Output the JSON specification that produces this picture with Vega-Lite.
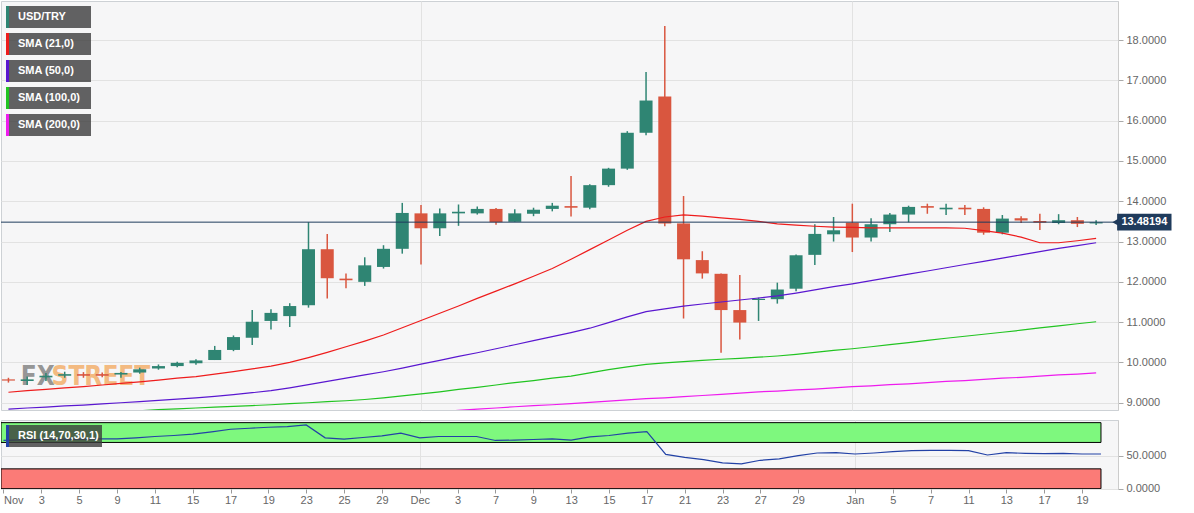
{
  "$schema": "https://vega.github.io/schema/vega-lite/v6.json",
  "background": "#ffffff",
  "padding": 0,
  "config": {
    "font": "Liberation Sans",
    "view": {"fill": "#f6f6f7", "stroke": "#cdd1d5", "strokeWidth": 1},
    "axis": {"labelFont": "Liberation Sans", "labelFontSize": 11, "labelColor": "#666666", "domainColor": "#cccccc", "tickColor": "#aaaaaa", "gridColor": "#e2e2e2", "title": null, "labelOverlap": false},
    "legend": {"labelFont": "Liberation Sans", "labelFontSize": 11, "labelFontWeight": "bold", "labelColor": "#ffffff"},
    "concat": {"spacing": 8}
  },
  "datasets": {
    "days": [
      {"date": "2021-11-01", "i": 0, "open": 9.58, "high": 9.62, "low": 9.50, "close": 9.55, "sma21": 9.26, "sma50": 8.84, "sma100": 8.66, "rsi": 73},
      {"date": "2021-11-02", "i": 1, "open": 9.54, "high": 9.65, "low": 9.44, "close": 9.58, "sma21": 9.30, "sma50": 8.87, "sma100": 8.68, "rsi": 74},
      {"date": "2021-11-03", "i": 2, "open": 9.63, "high": 9.74, "low": 9.54, "close": 9.67, "sma21": 9.33, "sma50": 8.89, "sma100": 8.70, "rsi": 74.5},
      {"date": "2021-11-04", "i": 3, "open": 9.67, "high": 9.77, "low": 9.62, "close": 9.71, "sma21": 9.37, "sma50": 8.92, "sma100": 8.72, "rsi": 75},
      {"date": "2021-11-05", "i": 4, "open": 9.71, "high": 9.76, "low": 9.62, "close": 9.67, "sma21": 9.40, "sma50": 8.94, "sma100": 8.74, "rsi": 75},
      {"date": "2021-11-08", "i": 5, "open": 9.71, "high": 9.75, "low": 9.63, "close": 9.67, "sma21": 9.44, "sma50": 8.97, "sma100": 8.76, "rsi": 75.5},
      {"date": "2021-11-09", "i": 6, "open": 9.70, "high": 9.76, "low": 9.62, "close": 9.74, "sma21": 9.48, "sma50": 9.00, "sma100": 8.78, "rsi": 75.5},
      {"date": "2021-11-10", "i": 7, "open": 9.75, "high": 9.87, "low": 9.72, "close": 9.83, "sma21": 9.52, "sma50": 9.03, "sma100": 8.80, "rsi": 77},
      {"date": "2021-11-11", "i": 8, "open": 9.85, "high": 9.95, "low": 9.82, "close": 9.91, "sma21": 9.56, "sma50": 9.06, "sma100": 8.83, "rsi": 79},
      {"date": "2021-11-12", "i": 9, "open": 9.91, "high": 10.02, "low": 9.88, "close": 9.99, "sma21": 9.61, "sma50": 9.09, "sma100": 8.85, "rsi": 80.5},
      {"date": "2021-11-15", "i": 10, "open": 9.98, "high": 10.08, "low": 9.94, "close": 10.05, "sma21": 9.65, "sma50": 9.12, "sma100": 8.87, "rsi": 82.5},
      {"date": "2021-11-16", "i": 11, "open": 10.06, "high": 10.41, "low": 10.06, "close": 10.31, "sma21": 9.71, "sma50": 9.16, "sma100": 8.89, "rsi": 86},
      {"date": "2021-11-17", "i": 12, "open": 10.31, "high": 10.67, "low": 10.28, "close": 10.63, "sma21": 9.77, "sma50": 9.20, "sma100": 8.91, "rsi": 90},
      {"date": "2021-11-18", "i": 13, "open": 10.61, "high": 11.30, "low": 10.43, "close": 11.01, "sma21": 9.84, "sma50": 9.25, "sma100": 8.93, "rsi": 91.5},
      {"date": "2021-11-19", "i": 14, "open": 11.03, "high": 11.32, "low": 10.82, "close": 11.23, "sma21": 9.91, "sma50": 9.30, "sma100": 8.95, "rsi": 93},
      {"date": "2021-11-22", "i": 15, "open": 11.15, "high": 11.47, "low": 10.88, "close": 11.40, "sma21": 10.00, "sma50": 9.37, "sma100": 8.98, "rsi": 94},
      {"date": "2021-11-23", "i": 16, "open": 11.42, "high": 13.48, "low": 11.36, "close": 12.81, "sma21": 10.12, "sma50": 9.45, "sma100": 9.00, "rsi": 96.5},
      {"date": "2021-11-24", "i": 17, "open": 12.81, "high": 13.19, "low": 11.59, "close": 12.09, "sma21": 10.25, "sma50": 9.53, "sma100": 9.03, "rsi": 77},
      {"date": "2021-11-25", "i": 18, "open": 12.08, "high": 12.21, "low": 11.84, "close": 12.04, "sma21": 10.39, "sma50": 9.61, "sma100": 9.05, "rsi": 75},
      {"date": "2021-11-26", "i": 19, "open": 12.00, "high": 12.61, "low": 11.90, "close": 12.41, "sma21": 10.53, "sma50": 9.69, "sma100": 9.08, "rsi": 77.5},
      {"date": "2021-11-29", "i": 20, "open": 12.37, "high": 12.91, "low": 12.33, "close": 12.82, "sma21": 10.68, "sma50": 9.77, "sma100": 9.12, "sma200": 8.69, "rsi": 80},
      {"date": "2021-11-30", "i": 21, "open": 12.82, "high": 13.96, "low": 12.70, "close": 13.71, "sma21": 10.86, "sma50": 9.86, "sma100": 9.17, "sma200": 8.72, "rsi": 84},
      {"date": "2021-12-01", "i": 22, "open": 13.70, "high": 13.91, "low": 12.43, "close": 13.33, "sma21": 11.04, "sma50": 9.96, "sma100": 9.22, "sma200": 8.75, "rsi": 77},
      {"date": "2021-12-02", "i": 23, "open": 13.33, "high": 13.82, "low": 13.14, "close": 13.70, "sma21": 11.22, "sma50": 10.05, "sma100": 9.27, "sma200": 8.78, "rsi": 79},
      {"date": "2021-12-03", "i": 24, "open": 13.70, "high": 13.92, "low": 13.39, "close": 13.74, "sma21": 11.40, "sma50": 10.15, "sma100": 9.33, "sma200": 8.81, "rsi": 79},
      {"date": "2021-12-06", "i": 25, "open": 13.70, "high": 13.87, "low": 13.67, "close": 13.81, "sma21": 11.59, "sma50": 10.24, "sma100": 9.38, "sma200": 8.84, "rsi": 79},
      {"date": "2021-12-07", "i": 26, "open": 13.81, "high": 13.83, "low": 13.42, "close": 13.48, "sma21": 11.77, "sma50": 10.34, "sma100": 9.44, "sma200": 8.87, "rsi": 73},
      {"date": "2021-12-08", "i": 27, "open": 13.49, "high": 13.80, "low": 13.49, "close": 13.70, "sma21": 11.95, "sma50": 10.44, "sma100": 9.50, "sma200": 8.90, "rsi": 73.5},
      {"date": "2021-12-09", "i": 28, "open": 13.69, "high": 13.84, "low": 13.63, "close": 13.79, "sma21": 12.14, "sma50": 10.54, "sma100": 9.55, "sma200": 8.93, "rsi": 74.5},
      {"date": "2021-12-10", "i": 29, "open": 13.81, "high": 13.96, "low": 13.75, "close": 13.89, "sma21": 12.33, "sma50": 10.64, "sma100": 9.61, "sma200": 8.95, "rsi": 75.5},
      {"date": "2021-12-13", "i": 30, "open": 13.88, "high": 14.63, "low": 13.62, "close": 13.84, "sma21": 12.56, "sma50": 10.74, "sma100": 9.66, "sma200": 8.98, "rsi": 73.5},
      {"date": "2021-12-14", "i": 31, "open": 13.84, "high": 14.42, "low": 13.80, "close": 14.40, "sma21": 12.80, "sma50": 10.85, "sma100": 9.74, "sma200": 9.01, "rsi": 78.5},
      {"date": "2021-12-15", "i": 32, "open": 14.40, "high": 14.83, "low": 14.36, "close": 14.81, "sma21": 13.04, "sma50": 10.99, "sma100": 9.82, "sma200": 9.04, "rsi": 80.5},
      {"date": "2021-12-16", "i": 33, "open": 14.81, "high": 15.74, "low": 14.78, "close": 15.70, "sma21": 13.28, "sma50": 11.13, "sma100": 9.89, "sma200": 9.07, "rsi": 84},
      {"date": "2021-12-17", "i": 34, "open": 15.70, "high": 17.21, "low": 15.64, "close": 16.50, "sma21": 13.50, "sma50": 11.26, "sma100": 9.95, "sma200": 9.10, "rsi": 86.5},
      {"date": "2021-12-20", "i": 35, "open": 16.60, "high": 18.35, "low": 13.38, "close": 13.45, "sma21": 13.61, "sma50": 11.33, "sma100": 9.99, "sma200": 9.12, "rsi": 52},
      {"date": "2021-12-21", "i": 36, "open": 13.45, "high": 14.13, "low": 11.09, "close": 12.56, "sma21": 13.66, "sma50": 11.40, "sma100": 10.02, "sma200": 9.15, "rsi": 47.5},
      {"date": "2021-12-22", "i": 37, "open": 12.54, "high": 12.76, "low": 12.08, "close": 12.21, "sma21": 13.63, "sma50": 11.45, "sma100": 10.05, "sma200": 9.18, "rsi": 44},
      {"date": "2021-12-23", "i": 38, "open": 12.20, "high": 12.21, "low": 10.24, "close": 11.30, "sma21": 13.59, "sma50": 11.50, "sma100": 10.08, "sma200": 9.21, "rsi": 39},
      {"date": "2021-12-24", "i": 39, "open": 11.30, "high": 12.17, "low": 10.57, "close": 10.99, "sma21": 13.55, "sma50": 11.55, "sma100": 10.10, "sma200": 9.24, "rsi": 37.5},
      {"date": "2021-12-27", "i": 40, "open": 11.55, "high": 11.61, "low": 11.03, "close": 11.58, "sma21": 13.50, "sma50": 11.60, "sma100": 10.13, "sma200": 9.27, "rsi": 43},
      {"date": "2021-12-28", "i": 41, "open": 11.57, "high": 11.98, "low": 11.46, "close": 11.81, "sma21": 13.44, "sma50": 11.65, "sma100": 10.16, "sma200": 9.29, "rsi": 45},
      {"date": "2021-12-29", "i": 42, "open": 11.83, "high": 12.68, "low": 11.77, "close": 12.66, "sma21": 13.41, "sma50": 11.72, "sma100": 10.20, "sma200": 9.32, "rsi": 50},
      {"date": "2021-12-30", "i": 43, "open": 12.67, "high": 13.43, "low": 12.42, "close": 13.19, "sma21": 13.38, "sma50": 11.80, "sma100": 10.25, "sma200": 9.34, "rsi": 54},
      {"date": "2021-12-31", "i": 44, "open": 13.18, "high": 13.61, "low": 13.00, "close": 13.28, "sma21": 13.36, "sma50": 11.88, "sma100": 10.30, "sma200": 9.37, "rsi": 54.5},
      {"date": "2022-01-03", "i": 45, "open": 13.47, "high": 13.94, "low": 12.74, "close": 13.10, "sma21": 13.35, "sma50": 11.95, "sma100": 10.34, "sma200": 9.40, "rsi": 52.5},
      {"date": "2022-01-04", "i": 46, "open": 13.10, "high": 13.58, "low": 13.00, "close": 13.43, "sma21": 13.34, "sma50": 12.03, "sma100": 10.39, "sma200": 9.42, "rsi": 54},
      {"date": "2022-01-05", "i": 47, "open": 13.43, "high": 13.71, "low": 13.24, "close": 13.67, "sma21": 13.34, "sma50": 12.11, "sma100": 10.44, "sma200": 9.45, "rsi": 56},
      {"date": "2022-01-06", "i": 48, "open": 13.67, "high": 13.89, "low": 13.48, "close": 13.86, "sma21": 13.34, "sma50": 12.19, "sma100": 10.49, "sma200": 9.47, "rsi": 57.5},
      {"date": "2022-01-07", "i": 49, "open": 13.88, "high": 13.94, "low": 13.69, "close": 13.84, "sma21": 13.34, "sma50": 12.27, "sma100": 10.55, "sma200": 9.50, "rsi": 58},
      {"date": "2022-01-10", "i": 50, "open": 13.80, "high": 13.94, "low": 13.66, "close": 13.84, "sma21": 13.34, "sma50": 12.35, "sma100": 10.60, "sma200": 9.53, "rsi": 58},
      {"date": "2022-01-11", "i": 51, "open": 13.84, "high": 13.91, "low": 13.66, "close": 13.80, "sma21": 13.33, "sma50": 12.43, "sma100": 10.65, "sma200": 9.55, "rsi": 57.5},
      {"date": "2022-01-12", "i": 52, "open": 13.81, "high": 13.85, "low": 13.17, "close": 13.22, "sma21": 13.27, "sma50": 12.51, "sma100": 10.70, "sma200": 9.58, "rsi": 51},
      {"date": "2022-01-13", "i": 53, "open": 13.22, "high": 13.66, "low": 13.18, "close": 13.57, "sma21": 13.21, "sma50": 12.59, "sma100": 10.75, "sma200": 9.61, "rsi": 54.5},
      {"date": "2022-01-14", "i": 54, "open": 13.58, "high": 13.63, "low": 13.46, "close": 13.52, "sma21": 13.11, "sma50": 12.67, "sma100": 10.80, "sma200": 9.63, "rsi": 53.5},
      {"date": "2022-01-17", "i": 55, "open": 13.51, "high": 13.69, "low": 13.29, "close": 13.47, "sma21": 12.97, "sma50": 12.75, "sma100": 10.86, "sma200": 9.66, "rsi": 53},
      {"date": "2022-01-18", "i": 56, "open": 13.46, "high": 13.68, "low": 13.43, "close": 13.53, "sma21": 12.97, "sma50": 12.83, "sma100": 10.91, "sma200": 9.69, "rsi": 53.5},
      {"date": "2022-01-19", "i": 57, "open": 13.53, "high": 13.61, "low": 13.36, "close": 13.44, "sma21": 13.02, "sma50": 12.90, "sma100": 10.96, "sma200": 9.71, "rsi": 52.5},
      {"date": "2022-01-20", "i": 58, "open": 13.45, "high": 13.53, "low": 13.41, "close": 13.48, "sma21": 13.08, "sma50": 12.97, "sma100": 11.01, "sma200": 9.74, "rsi": 52.5}
    ]
  },
  "resolve": {"scale": {"color": "independent"}, "legend": {"color": "independent"}},
  "vconcat": [
    {
      "width": 1117,
      "height": 409,
      "layer": [
        {
          "data": {"values": [{"part": "FX"}]},
          "mark": {"type": "text", "font": "DejaVu Sans Condensed, Liberation Sans Narrow, Liberation Sans", "fontWeight": "bold", "fontSize": 26, "align": "left", "baseline": "middle", "color": "#8c8c8c", "opacity": 0.9},
          "encoding": {"x": {"datum": 0.66}, "y": {"datum": 9.65}, "text": {"field": "part"}}
        },
        {
          "data": {"values": [{"part": "STREET"}]},
          "mark": {"type": "text", "font": "DejaVu Sans Condensed, Liberation Sans Narrow, Liberation Sans", "fontWeight": "bold", "fontSize": 26, "align": "left", "baseline": "middle", "color": "#f2a65a", "opacity": 0.75},
          "encoding": {"x": {"datum": 2.3}, "y": {"datum": 9.65}, "text": {"field": "part"}}
        },
        {
          "data": {"name": "days"},
          "mark": {"type": "rule", "clip": true, "strokeWidth": 1.5},
          "encoding": {
            "x": {"field": "i", "type": "quantitative", "scale": {"domain": [-0.13, 58.9], "nice": false, "zero": false},
                  "axis": {"values": [22, 45], "tickCount": 100, "grid": true, "labels": false, "ticks": false, "domain": false}},
            "y": {"field": "low", "type": "quantitative", "scale": {"domain": [8.82, 18.97], "nice": false, "zero": false},
                  "axis": {"orient": "right", "values": [9, 10, 11, 12, 13, 14, 15, 16, 17, 18], "tickCount": 100, "format": ".4f", "grid": true, "tickSize": 5, "labelPadding": 3}},
            "y2": {"field": "high"},
            "color": {"condition": {"test": "datum.close >= datum.open", "value": "#2f8573"}, "value": "#d9563f"}
          }
        },
        {
          "data": {"name": "days"},
          "mark": {"type": "bar", "clip": true, "size": 13},
          "encoding": {
            "x": {"field": "i", "type": "quantitative"},
            "y": {"field": "open", "type": "quantitative"},
            "y2": {"field": "close"},
            "color": {"condition": {"test": "datum.close >= datum.open", "value": "#2f8573"}, "value": "#d9563f"}
          }
        },
        {
          "data": {"name": "days"},
          "mark": {"type": "line", "clip": true, "strokeWidth": 1.2},
          "encoding": {
            "x": {"field": "i", "type": "quantitative"},
            "y": {"field": "sma21", "type": "quantitative"},
            "color": {
              "datum": "SMA (21,0)",
              "scale": {"domain": ["USD/TRY", "SMA (21,0)", "SMA (50,0)", "SMA (100,0)", "SMA (200,0)"], "range": ["#2f8573", "#ee1c1c", "#5a17d0", "#21c421", "#ee1cee"]},
              "legend": {
                "title": null, "orient": "none", "legendX": 5, "legendY": 5, "direction": "vertical",
                "symbolType": "M-1,-1L-1,1", "symbolSize": 484, "symbolStrokeWidth": 3,
                "clipHeight": 22, "labelOffset": -13, "rowPadding": 5,
                "encode": {
                  "symbols": {"update": {"strokeWidth": {"value": 3}}},
                  "entries": {
                    "update": {"fill": {"value": "#3c3c3c"}, "fillOpacity": {"value": 0.8}, "height": {"value": 22},
                    "width": {"signal": "datum.value == 'USD/TRY' ? 78 : ((datum.value == 'SMA (100,0)' || datum.value == 'SMA (200,0)') ? 91 : 85)"}}}
                }
              }
            }
          }
        },
        {
          "data": {"name": "days"},
          "mark": {"type": "line", "clip": true, "strokeWidth": 1.2},
          "encoding": {"x": {"field": "i", "type": "quantitative"}, "y": {"field": "sma50", "type": "quantitative"}, "color": {"datum": "SMA (50,0)"}}
        },
        {
          "data": {"name": "days"},
          "mark": {"type": "line", "clip": true, "strokeWidth": 1.2},
          "encoding": {"x": {"field": "i", "type": "quantitative"}, "y": {"field": "sma100", "type": "quantitative"}, "color": {"datum": "SMA (100,0)"}}
        },
        {
          "data": {"name": "days"},
          "mark": {"type": "line", "clip": true, "strokeWidth": 1.2},
          "encoding": {"x": {"field": "i", "type": "quantitative"}, "y": {"field": "sma200", "type": "quantitative"}, "color": {"datum": "SMA (200,0)"}}
        },
        {
          "data": {"values": [{"price": 13.48194}]},
          "mark": {"type": "rule", "color": "#1f3b5c", "strokeWidth": 1},
          "encoding": {"y": {"field": "price", "type": "quantitative"}}
        },
        {
          "data": {"values": [{"price": 13.48194}]},
          "mark": {"type": "point", "shape": "triangle-left", "filled": true, "size": 45, "color": "#1f3b5c", "opacity": 1},
          "encoding": {"x": {"datum": 59.02}, "y": {"field": "price", "type": "quantitative"}}
        },
        {
          "data": {"values": [{"price": 13.48194}]},
          "mark": {"type": "rect", "color": "#1f3b5c"},
          "encoding": {"x": {"datum": 59.12}, "x2": {"datum": 62.02}, "y": {"datum": 13.272}, "y2": {"datum": 13.692}}
        },
        {
          "data": {"values": [{"price": 13.48194}]},
          "mark": {"type": "text", "color": "#ffffff", "font": "Liberation Sans", "fontSize": 11, "fontWeight": "bold", "align": "center", "baseline": "middle"},
          "encoding": {"x": {"datum": 60.57}, "y": {"field": "price", "type": "quantitative"}, "text": {"field": "price", "format": ".5f"}}
        }
      ]
    },
    {
      "width": 1117,
      "height": 69,
      "layer": [
        {
          "data": {"values": [{"lo": 70, "hi": 100}, {"lo": 0, "hi": 30}]},
          "mark": {"type": "rect", "stroke": "#000000", "strokeWidth": 1, "clip": true},
          "encoding": {
            "x": {"datum": -0.13, "type": "quantitative", "scale": {"domain": [-0.13, 58.9], "nice": false, "zero": false},
                  "axis": {"orient": "bottom",
                           "values": [0, 2, 4, 6, 8, 10, 12, 14, 16, 18, 20, 22, 24, 26, 28, 30, 32, 34, 36, 38, 40, 42, 45, 47, 49, 51, 53, 55, 57],
                           "tickCount": 100,
                           "labelExpr": "['Nov','2','3','4','5','8','9','10','11','12','15','16','17','18','19','22','23','24','25','26','29','30','Dec','2','3','6','7','8','9','10','13','14','15','16','17','20','21','22','23','24','27','28','29','30','31','Jan','4','5','6','7','10','11','12','13','14','17','18','19','20'][datum.value]",
                           "labelOverlap": false, "labelFlush": 3, "tickSize": 4, "tickColor": "#999999", "domain": false, "labelPadding": 1,
                           "grid": true, "gridOpacity": {"condition": {"test": "datum.value == 22 || datum.value == 45", "value": 1}, "value": 0}}},
            "x2": {"datum": 58},
            "y": {"field": "lo", "type": "quantitative", "scale": {"domain": [-0.5, 104], "nice": false, "zero": false},
                  "axis": {"orient": "right", "values": [0, 50], "format": ".4f", "grid": true, "tickSize": 5, "labelPadding": 3}},
            "y2": {"field": "hi"},
            "fill": {"condition": {"test": "datum.lo >= 50", "value": "#7ef87e"}, "value": "#fb7b77"}
          }
        },
        {
          "data": {"name": "days"},
          "mark": {"type": "line", "clip": true, "strokeWidth": 1.2},
          "encoding": {
            "x": {"field": "i", "type": "quantitative"},
            "y": {"field": "rsi", "type": "quantitative"},
            "color": {
              "datum": "RSI (14,70,30,1)",
              "scale": {"domain": ["RSI (14,70,30,1)"], "range": ["#2342a6"]},
              "legend": {
                "title": null, "orient": "none", "legendX": 5, "legendY": 5,
                "symbolType": "M-1,-1L-1,1", "symbolSize": 484, "symbolStrokeWidth": 3,
                "clipHeight": 22, "labelOffset": -13,
                "encode": {
                  "symbols": {"update": {"stroke": {"value": "#22dd22"}, "strokeWidth": {"value": 3}}},
                  "entries": {"update": {"fill": {"value": "#3c3c3c"}, "fillOpacity": {"value": 0.8}, "height": {"value": 22}, "width": {"value": 96}}}
                }
              }
            }
          }
        }
      ]
    }
  ]
}
